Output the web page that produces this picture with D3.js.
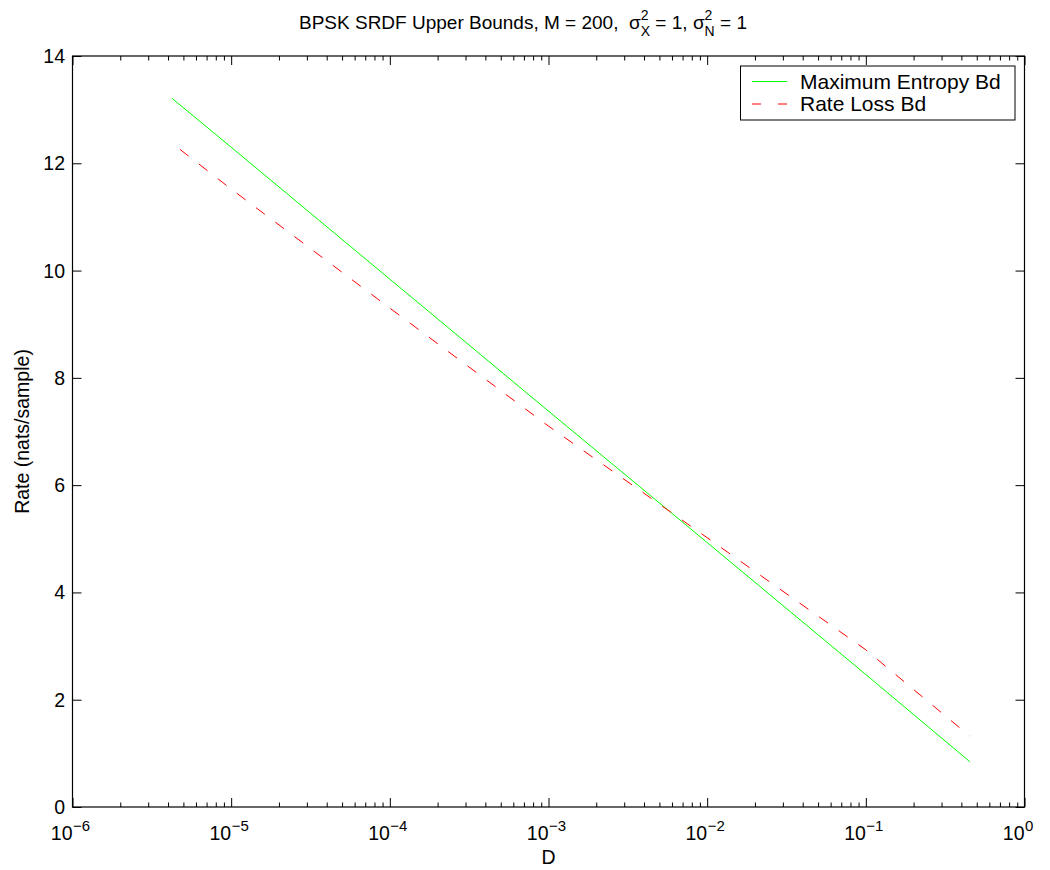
<!DOCTYPE html>
<html>
<head>
<meta charset="utf-8">
<script src="https://cdn.jsdelivr.net/npm/d3@7"></script>
<style>
  body { margin: 0; background: #fff; }
  text { font-family: "Liberation Sans", Arial, sans-serif; fill: #000; }
</style>
</head>
<body>
<svg id="chart" width="1050" height="870"></svg>
<script>
// data
var maxEntD    = [4.24e-6, 1e-5, 1e-4, 1e-3, 1e-2, 1e-1, 0.452];
var maxEntRate = [13.21, 12.30, 9.84, 7.38, 4.93, 2.47, 0.845];

var rateLossD    = [4.75e-6, 1e-5, 1e-4, 1e-3, 1e-2, 1e-1, 0.452];
var rateLossRate = [12.26, 11.52, 9.30, 7.10, 5.02, 2.93, 1.32];

var xMajor = [1e-6, 1e-5, 1e-4, 1e-3, 1e-2, 1e-1, 1];
var xExp   = ["\u22126", "\u22125", "\u22124", "\u22123", "\u22122", "\u22121", "0"];
var yTicks = [0, 2, 4, 6, 8, 10, 12, 14];

var legendNames = ["Maximum Entropy Bd", "Rate Loss Bd"];

// layout (plot box)
var pLeft = 72.5, pRight = 1024.5, pTop = 56, pBottom = 807;

var svg = d3.select("#chart");

var x = d3.scaleLog().domain([1e-6, 1]).range([pLeft, pRight]);
var y = d3.scaleLinear().domain([0, 14]).range([pBottom, pTop]);

// minor ticks 2..9 of every decade
var xMinor = [];
xMajor.slice(0, -1).forEach(function(d) {
    for (var k = 2; k <= 9; k++) xMinor.push(d * k);
});

// axis ticks, all pointing inward (matlab style)
function ticks(gen, vals, size, transform) {
    var g = svg.append("g").attr("transform", transform)
        .call(gen.tickValues(vals).tickSize(size).tickFormat(""));
    g.select(".domain").remove();
    g.selectAll("line").attr("stroke", "#000").attr("stroke-width", 1);
}
ticks(d3.axisBottom(x), xMajor, -9, "translate(0," + pBottom + ")");
ticks(d3.axisBottom(x), xMinor, -4.5, "translate(0," + pBottom + ")");
ticks(d3.axisTop(x), xMajor, -9, "translate(0," + pTop + ")");
ticks(d3.axisTop(x), xMinor, -4.5, "translate(0," + pTop + ")");
ticks(d3.axisLeft(y), yTicks, -9, "translate(" + pLeft + ",0)");
ticks(d3.axisRight(y), yTicks, -9, "translate(" + pRight + ",0)");

svg.append("rect")
    .attr("x", pLeft).attr("y", pTop)
    .attr("width", pRight - pLeft).attr("height", pBottom - pTop)
    .attr("fill", "none").attr("stroke", "#000").attr("stroke-width", 1.2);

// x tick labels: "10" ends at the tick, exponent starts there
xMajor.forEach(function(d, i) {
    svg.append("text")
        .attr("x", x(d)).attr("y", 840)
        .attr("text-anchor", "end")
        .style("font-size", "19.5px")
        .text("10");
    svg.append("text")
        .attr("x", x(d) + 0.5).attr("y", 831)
        .style("font-size", "15px")
        .text(xExp[i]);
});

// y tick labels
yTicks.forEach(function(d) {
    svg.append("text")
        .attr("x", 65).attr("y", y(d) + 7)
        .attr("text-anchor", "end")
        .style("font-size", "19.5px")
        .text(d);
});

// axis titles
svg.append("text")
    .attr("x", (pLeft + pRight) / 2).attr("y", 864)
    .attr("text-anchor", "middle")
    .style("font-size", "19.5px")
    .text("D");

svg.append("text")
    .attr("transform", "translate(29," + (pTop + pBottom) / 2 + ") rotate(-90)")
    .attr("text-anchor", "middle")
    .style("font-size", "19.5px")
    .text("Rate (nats/sample)");

// title, built piece by piece for the sigma sub/superscripts
var tx = 299;
function piece(str, dy, size) {
    var t = svg.append("text")
        .attr("x", tx).attr("y", 29 + dy)
        .style("font-size", size + "px")
        .text(str);
    return t.node().getComputedTextLength();
}
function sigma(sub) {
    tx += piece("\u03c3", 0, 19);
    var w1 = piece("2", -9, 14);
    var w2 = piece(sub, 7, 14);
    tx += Math.max(w1, w2);
}
tx += piece("BPSK SRDF Upper Bounds, M = 200,\u00a0\u00a0", 0, 19);
sigma("X");
tx += piece("\u00a0= 1,\u00a0", 0, 19);
sigma("N");
tx += piece("\u00a0= 1", 0, 19);

// curves
var line = d3.line()
    .x(function(d) { return x(d[0]); })
    .y(function(d) { return y(d[1]); });

svg.append("path")
    .datum(d3.zip(maxEntD, maxEntRate))
    .attr("d", line)
    .attr("fill", "none")
    .attr("stroke", "#00ff00")
    .attr("stroke-width", 1);

svg.append("path")
    .datum(d3.zip(rateLossD, rateLossRate))
    .attr("d", line)
    .attr("fill", "none")
    .attr("stroke", "#ff0000")
    .attr("stroke-width", 1)
    .attr("stroke-dasharray", "11,13");

// legend
var lg = svg.append("g");
lg.append("rect")
    .attr("x", 740.5).attr("y", 66)
    .attr("width", 274.5).attr("height", 54)
    .attr("fill", "#fff").attr("stroke", "#000").attr("stroke-width", 1);

var legendColors = ["#00ff00", "#ff0000"];
var legendDash = ["none", "9,17"];
legendNames.forEach(function(name, i) {
    var ly = 81.5 + i * 22.5;
    lg.append("line")
        .attr("x1", 752).attr("x2", 787)
        .attr("y1", ly).attr("y2", ly)
        .attr("stroke", legendColors[i])
        .attr("stroke-width", 1)
        .attr("stroke-dasharray", legendDash[i]);
    lg.append("text")
        .attr("x", 800).attr("y", ly + 7)
        .style("font-size", "21px")
        .text(name);
});
</script>
</body>
</html>
